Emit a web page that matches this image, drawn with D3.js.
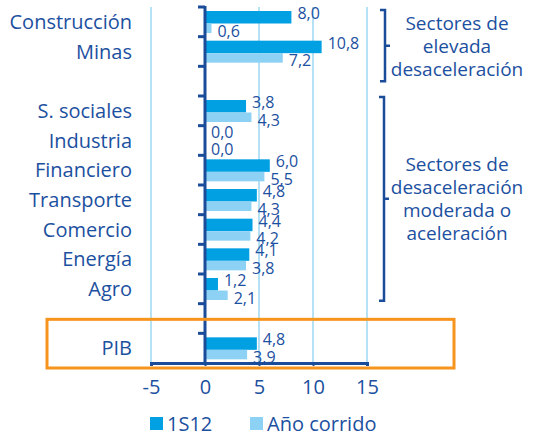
<!DOCTYPE html>
<html>
<head>
<meta charset="utf-8">
<script src="https://cdn.jsdelivr.net/npm/d3@7"></script>
<style>
  body { margin: 0; background: #fff; }
  svg text { font-family: "Open Sans", "Noto Sans", sans-serif; font-weight: 500; fill: #1c50a0; }
</style>
</head>
<body>
<main></main>
<script>
// data
const categories = ["Construcción", "Minas", "", "S. sociales", "Industria", "Financiero",
  "Transporte", "Comercio", "Energía", "Agro", " ", "PIB"]
const semestre = [8.0, 10.8, null, 3.8, 0.0, 6.0, 4.8, 4.4, 4.1, 1.2, null, 4.8]
const anoCorrido = [0.6, 7.2, null, 4.3, 0.0, 5.5, 4.3, 4.2, 3.8, 2.1, null, 3.9]
const xTicks = [-5, 0, 5, 10, 15]
const seriesNames = ["1S12", "Año corrido"]
const groupNotes = [
  { from: "Construcción", to: "Minas", lines: ["Sectores de", "elevada", "desaceleración"] },
  { from: "S. sociales", to: "Agro", lines: ["Sectores de", "desaceleración", "moderada o", "aceleración"] },
]

const w = 535, h = 439
const navy = "#1a4c9a"
const dark = "#00a0e3"
const light = "#8dd2f4"
const grid = "#b4e1f6"

const svg = d3.select("main").append("svg").attr("width", w).attr("height", h)

const x = d3.scaleLinear().domain([-5, 15]).range([151, 367])
const y = d3.scaleBand().domain(categories).range([7, 363]).padding(0)
const bw = y.bandwidth()

const fmt = (v) => d3.format(".1f")(v).replace(".", ",")

// gridlines
svg.selectAll(".grid")
  .data(xTicks.filter((t) => t !== 0))
  .enter()
  .append("line")
  .attr("x1", (d) => x(d)).attr("x2", (d) => x(d))
  .attr("y1", 7).attr("y2", 363)
  .attr("stroke", grid).attr("stroke-width", 2)

// bars
const rows = categories.map((c, i) => ({ c, a: semestre[i], b: anoCorrido[i] })).filter((d) => d.a !== null)

svg.selectAll(".barA")
  .data(rows)
  .enter()
  .append("rect")
  .attr("x", (d) => x(Math.min(0, d.a)))
  .attr("y", (d) => y(d.c) + 4)
  .attr("width", (d) => Math.abs(x(d.a) - x(0)))
  .attr("height", 12.5)
  .attr("fill", dark)

svg.selectAll(".barB")
  .data(rows)
  .enter()
  .append("rect")
  .attr("x", (d) => x(Math.min(0, d.b)))
  .attr("y", (d) => y(d.c) + 16.5)
  .attr("width", (d) => Math.abs(x(d.b) - x(0)))
  .attr("height", 9.5)
  .attr("fill", light)

// value labels
svg.selectAll(".labA")
  .data(rows)
  .enter()
  .append("text")
  .attr("x", (d) => x(Math.max(0, d.a)) + 6)
  .attr("y", (d) => y(d.c) + 12)
  .attr("font-size", "16px")
  .text((d) => fmt(d.a))

svg.selectAll(".labB")
  .data(rows)
  .enter()
  .append("text")
  .attr("x", (d) => x(Math.max(0, d.b)) + 6)
  .attr("y", (d) => y(d.c) + 29.5)
  .attr("font-size", "16px")
  .text((d) => fmt(d.b))

// category labels
svg.selectAll(".cat")
  .data(categories)
  .enter()
  .append("text")
  .attr("x", 132)
  .attr("y", (d) => y(d) + bw / 2 + 7)
  .attr("text-anchor", "end")
  .attr("font-size", "20px")
  .text((d) => d.trim())

// y axis with ticks at band edges
const edges = categories.map((c) => y(c))
svg.append("line")
  .attr("x1", x(0)).attr("x2", x(0))
  .attr("y1", 6).attr("y2", 364)
  .attr("stroke", navy).attr("stroke-width", 3)
svg.selectAll(".ytick")
  .data(edges)
  .enter()
  .append("line")
  .attr("x1", x(0) - 7).attr("x2", x(0))
  .attr("y1", (d) => d).attr("y2", (d) => d)
  .attr("stroke", navy).attr("stroke-width", 3)

// x axis
const xAxis = svg.append("g")
  .attr("transform", "translate(0,363)")
  .call(d3.axisBottom(x).tickValues(xTicks).tickSize(3).tickPadding(14).tickFormat((d) => d))
xAxis.select(".domain").attr("stroke", navy).attr("stroke-width", 3)
xAxis.selectAll(".tick line").attr("stroke", navy).attr("stroke-width", 2)
xAxis.selectAll(".tick text").attr("font-size", "20px").attr("fill", "#1c50a0")
  .style("font-family", '"Open Sans", sans-serif').style("font-weight", 500)

// PIB highlight box
svg.append("rect")
  .attr("x", 47).attr("y", y("PIB") - 14)
  .attr("width", 407).attr("height", bw + 19)
  .attr("fill", "none")
  .attr("stroke", "#f7941d").attr("stroke-width", 3)

// group brackets and notes
groupNotes.forEach((g, k) => {
  const y0 = k === 0 ? y(g.from) + 3 : y(g.from) + 1
  const y1 = k === 0 ? y(g.to) + bw + 15 : y(g.to) + bw - 3
  const bx = k === 0 ? 385 : 384
  const ym = (y0 + y1) / 2
  svg.append("path")
    .attr("d", `M${bx - 5},${y0}H${bx}V${y1}H${bx - 5}M${bx},${ym}H${bx + 5}`)
    .attr("fill", "none").attr("stroke", navy).attr("stroke-width", 2.5)
  const lh = 23
  const top = ym - (g.lines.length - 1) * lh / 2
  svg.selectAll(".note" + k)
    .data(g.lines)
    .enter()
    .append("text")
    .attr("x", 457)
    .attr("y", (d, i) => top + i * lh + 7)
    .attr("text-anchor", "middle")
    .attr("font-size", "19px")
    .text((d) => d)
})

// legend
const legend = svg.selectAll(".legend")
  .data(seriesNames)
  .enter()
  .append("g")
  .attr("transform", (d, i) => `translate(${150 + i * 100},417)`)
legend.append("rect")
  .attr("width", 13).attr("height", 13)
  .attr("fill", (d, i) => (i === 0 ? dark : light))
legend.append("text")
  .attr("x", 17).attr("y", 14)
  .attr("font-size", "20px")
  .text((d) => d)
</script>
</body>
</html>
